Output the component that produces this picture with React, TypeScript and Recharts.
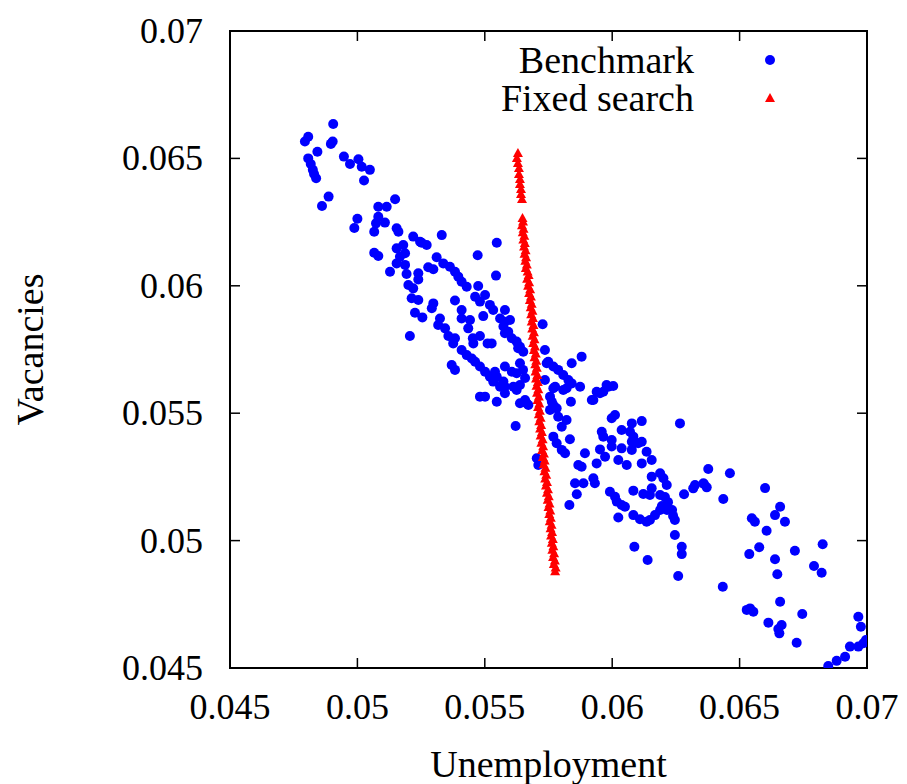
import React from 'react'
import {
  ScatterChart,
  Scatter,
  XAxis,
  YAxis,
  ReferenceArea,
  Legend,
} from 'recharts'

// [unemployment, vacancies]
const benchmark: [number, number][] = [
  [0.04905, 0.06635], [0.04807, 0.06585], [0.04794, 0.06566], [0.04903, 0.06566], [0.04896, 0.06557],
  [0.04843, 0.06526], [0.04807, 0.065], [0.04817, 0.06478], [0.04825, 0.06455], [0.0483, 0.06439],
  [0.04838, 0.06422], [0.04947, 0.06507], [0.04971, 0.06478], [0.05004, 0.06497], [0.05017, 0.06467],
  [0.05049, 0.06455], [0.05026, 0.06413], [0.04887, 0.0635], [0.04861, 0.06313], [0.05, 0.06263],
  [0.04988, 0.06227], [0.05082, 0.0631], [0.05115, 0.0631], [0.05148, 0.0634], [0.05082, 0.06271],
  [0.05073, 0.06245], [0.05108, 0.06248], [0.05066, 0.06212], [0.05154, 0.06226], [0.05331, 0.06199],
  [0.05547, 0.06169], [0.05472, 0.0612], [0.05544, 0.0604], [0.05161, 0.06212], [0.05219, 0.06193],
  [0.0518, 0.0616], [0.05154, 0.06147], [0.05187, 0.06128], [0.05167, 0.06114], [0.05154, 0.06088],
  [0.05187, 0.06082], [0.05252, 0.06169], [0.05272, 0.0616], [0.05246, 0.06173], [0.05066, 0.0613],
  [0.05082, 0.06117], [0.05128, 0.06055], [0.05193, 0.06046], [0.05239, 0.06049], [0.05239, 0.06025],
  [0.052, 0.06003], [0.05278, 0.06073], [0.05298, 0.06065], [0.05311, 0.06112], [0.05337, 0.06088],
  [0.05363, 0.06075], [0.05383, 0.06055], [0.05396, 0.06036], [0.05409, 0.06016], [0.05429, 0.05996],
  [0.05219, 0.0599], [0.05213, 0.05951], [0.05239, 0.05944], [0.05474, 0.05999], [0.05501, 0.05964],
  [0.05462, 0.05957], [0.05481, 0.05938], [0.0552, 0.05925], [0.05533, 0.05905], [0.05383, 0.05942],
  [0.05298, 0.05931], [0.05292, 0.05912], [0.05226, 0.05894], [0.05255, 0.05876], [0.05409, 0.05905],
  [0.05409, 0.05872], [0.05442, 0.05866], [0.05435, 0.05833], [0.05324, 0.05872], [0.05317, 0.05846],
  [0.05344, 0.05833], [0.05494, 0.05881], [0.05579, 0.05905], [0.0556, 0.05872], [0.05579, 0.05859],
  [0.05599, 0.05866], [0.05206, 0.05803], [0.05357, 0.05803], [0.05383, 0.05794], [0.05376, 0.05774],
  [0.05453, 0.05794], [0.05481, 0.05803], [0.05455, 0.05774], [0.05511, 0.05774], [0.05573, 0.0584],
  [0.05592, 0.0582], [0.05606, 0.05794], [0.05625, 0.05781], [0.05631, 0.05755], [0.05727, 0.05849],
  [0.05409, 0.05748], [0.05429, 0.05728], [0.05449, 0.05715], [0.05462, 0.05702], [0.05481, 0.05683],
  [0.05501, 0.05663], [0.0537, 0.05689], [0.05383, 0.0567], [0.0552, 0.05643], [0.05547, 0.05643],
  [0.05533, 0.05624], [0.05573, 0.05624], [0.05579, 0.05604], [0.05579, 0.05683], [0.05606, 0.05663],
  [0.05625, 0.05657], [0.05638, 0.05696], [0.0565, 0.0567], [0.05658, 0.05638], [0.05638, 0.05611],
  [0.05625, 0.05591], [0.05736, 0.05748], [0.05743, 0.05696], [0.05769, 0.05683], [0.05788, 0.0567],
  [0.05808, 0.0565], [0.05828, 0.0563], [0.0588, 0.05722], [0.05841, 0.05696], [0.05776, 0.05604],
  [0.05808, 0.05591], [0.05874, 0.05604], [0.05978, 0.05611], [0.05952, 0.05578], [0.05926, 0.05552],
  [0.05481, 0.05565], [0.05501, 0.05565], [0.05547, 0.05545], [0.05579, 0.05578], [0.05638, 0.05539],
  [0.05664, 0.05539], [0.05756, 0.05565], [0.05769, 0.05532], [0.05838, 0.05545], [0.05527, 0.05774],
  [0.05579, 0.05814], [0.05638, 0.05761], [0.05651, 0.05741], [0.05749, 0.05702], [0.05841, 0.05617],
  [0.0554, 0.05663], [0.0554, 0.05637], [0.0556, 0.05604], [0.05612, 0.05604], [0.05736, 0.0563],
  [0.05769, 0.05598], [0.05821, 0.05598], [0.0592, 0.05552], [0.05939, 0.05584], [0.05965, 0.05584],
  [0.05985, 0.05604], [0.06004, 0.05607], [0.05658, 0.05552], [0.05671, 0.05532], [0.05763, 0.05545],
  [0.05756, 0.05513], [0.05782, 0.05519], [0.05788, 0.05486], [0.05821, 0.05473], [0.05802, 0.05447],
  [0.05621, 0.0545], [0.05834, 0.05398], [0.05769, 0.05408], [0.05782, 0.05382], [0.05802, 0.05356],
  [0.05815, 0.05343], [0.05704, 0.05323], [0.0571, 0.05297], [0.05832, 0.0514], [0.05998, 0.0548],
  [0.06011, 0.05493], [0.06077, 0.0546], [0.06116, 0.05469], [0.06266, 0.0546], [0.05959, 0.05427],
  [0.05965, 0.05408], [0.05998, 0.05395], [0.05998, 0.05369], [0.06037, 0.05434], [0.0607, 0.05427],
  [0.06083, 0.05408], [0.06077, 0.05388], [0.06102, 0.05382], [0.06116, 0.05388], [0.06037, 0.05362],
  [0.06077, 0.05356], [0.06135, 0.05349], [0.06155, 0.05316], [0.05893, 0.05343], [0.05952, 0.05358],
  [0.05972, 0.05329], [0.05939, 0.05303], [0.06024, 0.05316], [0.06057, 0.05297], [0.06116, 0.05303],
  [0.0588, 0.0529], [0.05867, 0.05297], [0.06377, 0.05281], [0.06462, 0.05264], [0.06155, 0.05251],
  [0.06188, 0.05264], [0.06201, 0.05245], [0.06214, 0.05218], [0.05926, 0.05245], [0.05932, 0.05225],
  [0.05887, 0.05225], [0.05854, 0.05225], [0.05861, 0.05182], [0.06083, 0.05196], [0.06122, 0.05183],
  [0.06155, 0.05205], [0.06148, 0.05179], [0.05991, 0.05192], [0.06011, 0.05172], [0.06018, 0.05153],
  [0.06037, 0.0514], [0.0605, 0.05133], [0.06188, 0.05179], [0.06207, 0.05171], [0.06219, 0.05151],
  [0.06195, 0.05136], [0.06215, 0.0512], [0.06235, 0.0512], [0.06239, 0.05097], [0.06246, 0.05081],
  [0.06188, 0.0512], [0.06168, 0.051], [0.06148, 0.05081], [0.06135, 0.05074], [0.06282, 0.05182],
  [0.06318, 0.05205], [0.06325, 0.05218], [0.06358, 0.05225], [0.06371, 0.05209], [0.06436, 0.05163],
  [0.066, 0.05206], [0.06024, 0.05091], [0.06083, 0.051], [0.06109, 0.05084], [0.06246, 0.05022],
  [0.06273, 0.04976], [0.06273, 0.04947], [0.06087, 0.04976], [0.06139, 0.04924], [0.06259, 0.04861],
  [0.06548, 0.05088], [0.0656, 0.05074], [0.06606, 0.05039], [0.06639, 0.051], [0.06659, 0.05133],
  [0.06577, 0.04974], [0.06538, 0.04947], [0.06639, 0.04927], [0.06648, 0.04868], [0.0636, 0.05222],
  [0.06678, 0.05074], [0.06717, 0.0496], [0.06826, 0.04986], [0.06792, 0.049], [0.06822, 0.04874],
  [0.06434, 0.04819], [0.06528, 0.04728], [0.06541, 0.04734], [0.06554, 0.04721], [0.06659, 0.0476],
  [0.06746, 0.04712], [0.06613, 0.04678], [0.06665, 0.04669], [0.06652, 0.04653], [0.06656, 0.04636],
  [0.06724, 0.04599], [0.06966, 0.04701], [0.06976, 0.04662], [0.06848, 0.04508], [0.06881, 0.04528],
  [0.06914, 0.04544], [0.06933, 0.04584], [0.06966, 0.04584], [0.06986, 0.04597], [0.06996, 0.0461],
]

const fixedSearch: [number, number][] = [
  [0.0563, 0.06521], [0.05626, 0.06502], [0.0563, 0.06482], [0.05634, 0.06462], [0.05634, 0.06439],
  [0.05638, 0.06419], [0.05638, 0.064], [0.05642, 0.0638], [0.05642, 0.0636], [0.05646, 0.06341],
  [0.05648, 0.06266], [0.0565, 0.06252], [0.05646, 0.06238], [0.05652, 0.06224], [0.05649, 0.0621],
  [0.05655, 0.06196], [0.05651, 0.06182], [0.05657, 0.06168], [0.05654, 0.06154], [0.0566, 0.0614],
  [0.05656, 0.06126], [0.05662, 0.06112], [0.05659, 0.06098], [0.05665, 0.06084], [0.05661, 0.0607],
  [0.05668, 0.06056], [0.05672, 0.06042], [0.05666, 0.06028], [0.05674, 0.06014], [0.0567, 0.06],
  [0.05678, 0.05986], [0.05674, 0.05972], [0.05681, 0.05958], [0.05677, 0.05944], [0.05684, 0.0593],
  [0.0568, 0.05916], [0.05687, 0.05902], [0.05682, 0.05888], [0.05689, 0.05874], [0.05684, 0.0586],
  [0.05691, 0.05846], [0.05686, 0.05832], [0.05693, 0.05818], [0.05688, 0.05804], [0.05695, 0.0579],
  [0.0569, 0.05776], [0.05697, 0.05762], [0.05693, 0.05748], [0.057, 0.05734], [0.05695, 0.0572],
  [0.05702, 0.05706], [0.05698, 0.05692], [0.05704, 0.05678], [0.05699, 0.05664], [0.05706, 0.0565],
  [0.05701, 0.05636], [0.05708, 0.05622], [0.05703, 0.05608], [0.0571, 0.05594], [0.05705, 0.0558],
  [0.05712, 0.05566], [0.05707, 0.05552], [0.05714, 0.05538], [0.05709, 0.05524], [0.05716, 0.0551],
  [0.05712, 0.05496], [0.05719, 0.05482], [0.05714, 0.05468], [0.05721, 0.05454], [0.05717, 0.0544],
  [0.05724, 0.05426], [0.05719, 0.05412], [0.05727, 0.05398], [0.05722, 0.05384], [0.05729, 0.0537],
  [0.05725, 0.05356], [0.05732, 0.05342], [0.05728, 0.05328], [0.05735, 0.05314], [0.05731, 0.053],
  [0.05738, 0.05286], [0.05734, 0.05272], [0.05741, 0.05258], [0.05737, 0.05244], [0.05744, 0.0523],
  [0.0574, 0.05216], [0.05748, 0.05202], [0.05744, 0.05188], [0.05751, 0.05174], [0.05747, 0.0516],
  [0.05754, 0.05146], [0.0575, 0.05132], [0.05757, 0.05118], [0.05753, 0.05104], [0.05759, 0.0509],
  [0.05755, 0.05076], [0.05762, 0.05062], [0.05758, 0.05048], [0.05764, 0.05034], [0.0576, 0.0502],
  [0.05767, 0.05006], [0.05763, 0.04992], [0.05769, 0.04978], [0.05765, 0.04964], [0.05772, 0.0495],
  [0.05768, 0.04936], [0.05775, 0.04922], [0.05771, 0.04908], [0.05778, 0.04894], [0.05776, 0.0488],
]

const xTicks = [0.045, 0.05, 0.055, 0.06, 0.065, 0.07]
const yTicks = [0.045, 0.05, 0.055, 0.06, 0.065, 0.07]

const FONT = '"Liberation Serif", "Times New Roman", serif'
const PLOT = 637
const TICK = 10

const toRows = (pts: [number, number][]) => pts.map(([u, v]) => ({ u, v }))

function Dot(p: any) {
  return <circle cx={p.cx} cy={p.cy} r={5} fill="#0000ff" />
}

function Tri(p: any) {
  const { cx, cy } = p
  return <polygon points={`${cx},${cy - 5} ${cx + 5},${cy + 4} ${cx - 5},${cy + 4}`} fill="#ff0000" />
}

function XTick(p: any) {
  const { x, y, payload } = p
  return (
    <g>
      <line x1={x} x2={x} y1={y} y2={y - TICK} stroke="#000" strokeWidth={1.5} />
      <line x1={x} x2={x} y1={y - PLOT} y2={y - PLOT + TICK} stroke="#000" strokeWidth={1.5} />
      <text x={x} y={y + 51} textAnchor="middle" fontSize={36} fontFamily={FONT} fill="#000">
        {String(payload.value)}
      </text>
    </g>
  )
}

function YTick(p: any) {
  const { x, y, payload } = p
  return (
    <g>
      <line x1={x} x2={x + TICK} y1={y} y2={y} stroke="#000" strokeWidth={1.5} />
      <line x1={x + PLOT} x2={x + PLOT - TICK} y1={y} y2={y} stroke="#000" strokeWidth={1.5} />
      <text x={x - 27} y={y + 12} textAnchor="end" fontSize={36} fontFamily={FONT} fill="#000">
        {String(payload.value)}
      </text>
    </g>
  )
}

function KeyBox({ payload }: any) {
  const items = payload ?? []
  return (
    <div style={{ fontFamily: FONT, fontSize: 38, lineHeight: '38px', color: '#000' }}>
      {items.map((it: any, i: number) => (
        <div key={it.value} style={{ display: 'flex', height: 38, alignItems: 'center' }}>
          <span style={{ width: 300, textAlign: 'right', whiteSpace: 'nowrap' }}>{it.value}</span>
          <svg width={100} height={38}>
            {i === 0 ? <Dot cx={76} cy={19} /> : <Tri cx={76} cy={19} />}
          </svg>
        </div>
      ))}
    </div>
  )
}

export default function App() {
  return (
    <ScatterChart width={899} height={776} margin={{ top: 23, right: 40, bottom: 0, left: 0 }}>
      <XAxis
        type="number"
        dataKey="u"
        domain={[0.045, 0.07]}
        ticks={xTicks}
        interval={0}
        allowDataOverflow
        axisLine={false}
        tickLine={false}
        tickSize={0}
        tickMargin={0}
        height={116}
        tick={(p: any) => <XTick {...p} />}
        label={{
          content: (lp: any) => {
            const vb = lp.viewBox
            return (
              <text x={vb.x + vb.width / 2} y={vb.y + 109} textAnchor="middle" fontSize={38} fontFamily={FONT} fill="#000">
                Unemployment
              </text>
            )
          },
        }}
      />
      <YAxis
        type="number"
        dataKey="v"
        domain={[0.045, 0.07]}
        ticks={yTicks}
        interval={0}
        allowDataOverflow
        axisLine={false}
        tickLine={false}
        tickSize={0}
        tickMargin={0}
        width={222}
        tick={(p: any) => <YTick {...p} />}
        label={{
          content: (lp: any) => {
            const vb = lp.viewBox
            const cy = vb.y + vb.height / 2
            return (
              <text x={35} y={cy} transform={`rotate(-90 35 ${cy})`} textAnchor="middle" fontSize={38} fontFamily={FONT} fill="#000">
                Vacancies
              </text>
            )
          },
        }}
      />
      <ReferenceArea x1={0.045} x2={0.07} y1={0.045} y2={0.07} fill="none" stroke="#000" strokeWidth={2} />
      <Scatter name="Benchmark" data={toRows(benchmark)} shape={Dot} fill="#0000ff" isAnimationActive={false} />
      <Scatter name="Fixed search" data={toRows(fixedSearch)} shape={Tri} fill="#ff0000" isAnimationActive={false} />
      <Legend
        layout="vertical"
        align="center"
        verticalAlign="middle"
        wrapperStyle={{ top: 33, left: 386, width: 400 }}
        content={(lp: any) => <KeyBox {...lp} />}
      />
    </ScatterChart>
  )
}
